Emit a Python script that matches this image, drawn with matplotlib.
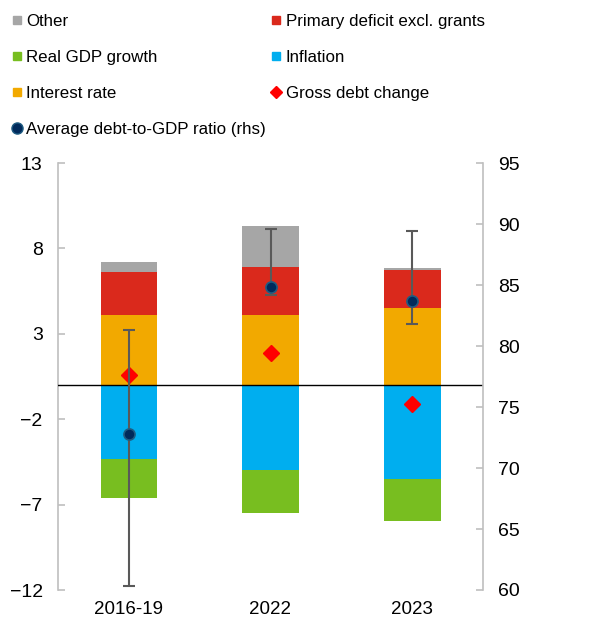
import numpy as np
import matplotlib
matplotlib.use("Agg")
import matplotlib.pyplot as plt
from matplotlib.lines import Line2D

plt.rcParams['font.family'] = ['Liberation Sans', 'DejaVu Sans']

periods = ["2016-19", "2022", "2023"]

# contributions to debt change (pp of GDP)
interest = [4.09, 4.11, 4.52]
primary_deficit = [2.54, 2.81, 2.23]
other = [0.55, 2.37, 0.10]
inflation = [-4.34, -4.97, -5.53]
real_growth = [-2.25, -2.50, -2.43]
gross_change = [0.58, 1.87, -1.12]

# average debt-to-GDP ratio with its range (rhs)
debt_avg = [72.8, 84.8, 83.7]
debt_low = [60.3, 84.15, 81.8]
debt_high = [81.3, 89.6, 89.4]

c_other = "#A6A6A6"
c_primary = "#DA291C"
c_growth = "#78BE20"
c_inflation = "#00AEEF"
c_interest = "#F2A900"
c_diamond = "#FF0000"
c_dot = "#002A5C"
c_spine = "#BFBFBF"

fig = plt.figure(figsize=(6.11, 6.26), dpi=100)
ax = fig.add_axes([58 / 611, 1 - 590 / 626, 425 / 611, 427 / 626])
ax2 = ax.twinx()

x = np.arange(len(periods))
w = 0.4
interest = np.array(interest)
primary_deficit = np.array(primary_deficit)
ax.bar(x, interest, w, color=c_interest, zorder=2)
ax.bar(x, primary_deficit, w, bottom=interest, color=c_primary, zorder=2)
ax.bar(x, other, w, bottom=interest + primary_deficit, color=c_other, zorder=2)
ax.bar(x, inflation, w, color=c_inflation, zorder=2)
ax.bar(x, real_growth, w, bottom=inflation, color=c_growth, zorder=2)
ax.axhline(0, color="black", lw=1, zorder=3)
ax.plot(x, gross_change, "D", color=c_diamond, ms=8.5, zorder=4, ls="none")

ax.set_xlim(-0.5, 2.5)
ax.set_ylim(-12, 13)
ax.set_yticks([-12, -7, -2, 3, 8, 13])
ax.set_yticklabels(["\u221212", "\u22127", "\u22122", "3", "8", "13"])
ax.set_xticks(x)
ax.set_xticklabels(periods)

ax2.set_ylim(60, 95)
ax2.set_yticks(range(60, 96, 5))
debt_avg = np.array(debt_avg)
yerr = [debt_avg - np.array(debt_low), np.array(debt_high) - debt_avg]
ax2.errorbar(x, debt_avg, yerr=yerr, fmt="none", ecolor="#595959", elinewidth=1.5,
             capsize=4, capthick=1.5, zorder=5)
ax2.plot(x, debt_avg, "o", ms=8, mfc=c_dot, mec="#1F5C82", mew=1.2, ls="none", zorder=6)

for a in (ax, ax2):
    for s in ("top", "bottom"):
        a.spines[s].set_visible(False)
    a.spines["left"].set_color(c_spine)
    a.spines["right"].set_color(c_spine)
    a.spines["left"].set_linewidth(1.2)
    a.spines["right"].set_linewidth(1.2)
    a.tick_params(axis="y", direction="in", length=5, width=1.2, color=c_spine,
                  labelsize=14, pad=11)
    a.tick_params(axis="x", length=0, labelsize=13.5, pad=8)
ax.spines["right"].set_visible(False)
ax2.spines["left"].set_visible(False)

handles = [
    Line2D([], [], marker="s", ls="none", color=c_other, ms=6),
    Line2D([], [], marker="s", ls="none", color=c_growth, ms=6),
    Line2D([], [], marker="s", ls="none", color=c_interest, ms=6),
    Line2D([], [], marker="o", ls="none", mfc=c_dot, mec="#1F5C82", ms=8),
    Line2D([], [], marker="s", ls="none", color=c_primary, ms=6),
    Line2D([], [], marker="s", ls="none", color=c_inflation, ms=6),
    Line2D([], [], marker="D", ls="none", color=c_diamond, ms=6.5),
]
labels = ["Other", "Real GDP growth", "Interest rate", "Average debt-to-GDP ratio (rhs)",
          "Primary deficit excl. grants", "Inflation", "Gross debt change"]
fig.legend(handles, labels, ncol=2, loc="upper left", bbox_to_anchor=(0.0, 0.997),
           frameon=False, fontsize=12.2, handlelength=0.6, handletextpad=0.25,
           columnspacing=0.3, labelspacing=1.25, borderaxespad=0.3)

fig.savefig("out.png", dpi=100)
